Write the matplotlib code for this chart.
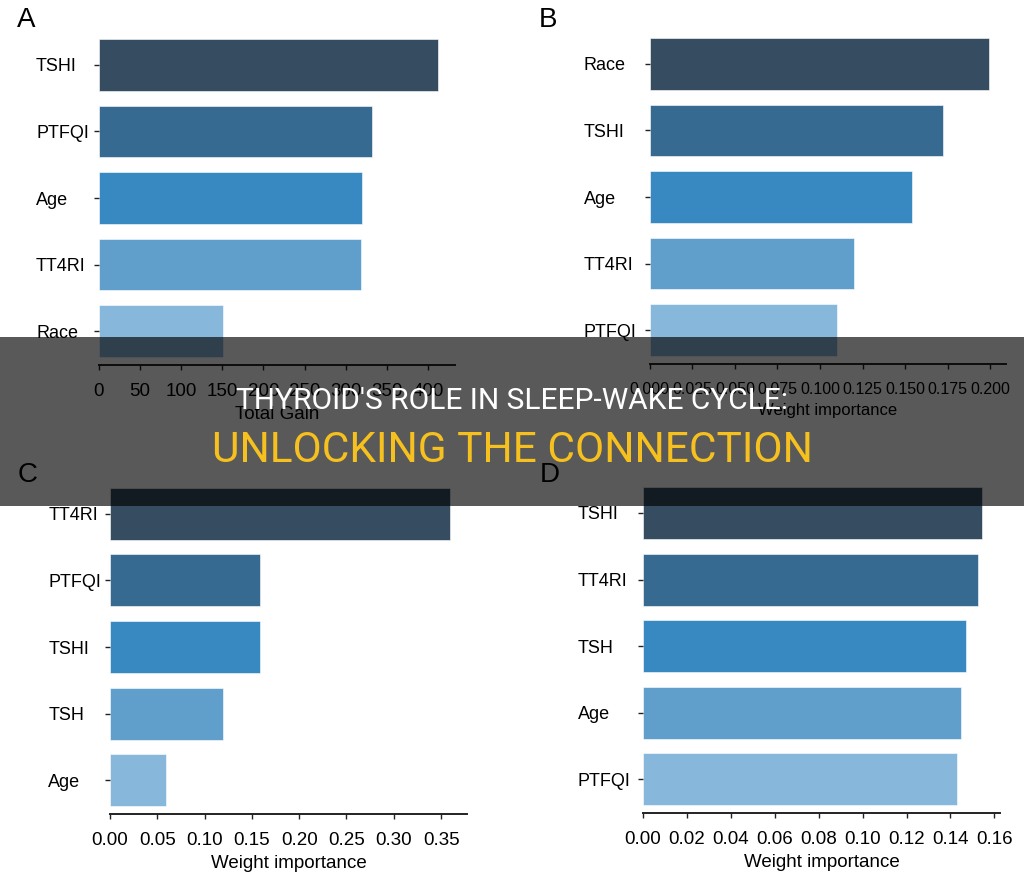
"""
Four-panel feature importance figure (A-D) with a title banner across the middle.
"""

import matplotlib
matplotlib.use("Agg")
import matplotlib.pyplot as plt
from matplotlib import font_manager
from matplotlib.patches import Rectangle

# ---- data ---------------------------------------------------------------
labels_a = ["TSHI", "PTFQI", "Age", "TT4RI", "Race"]
gain_a = [412, 332, 320, 319, 151]
ticks_a = [0, 50, 100, 150, 200, 250, 300, 350, 400]

labels_b = ["Race", "TSHI", "Age", "TT4RI", "PTFQI"]
weight_b = [0.199, 0.172, 0.154, 0.120, 0.110]
ticks_b = [0.000, 0.025, 0.050, 0.075, 0.100, 0.125, 0.150, 0.175, 0.200]

labels_c = ["TT4RI", "PTFQI", "TSHI", "TSH", "Age"]
weight_c = [0.359, 0.159, 0.159, 0.1195, 0.059]
ticks_c = [0.00, 0.05, 0.10, 0.15, 0.20, 0.25, 0.30, 0.35]

labels_d = ["TSHI", "TT4RI", "TSH", "Age", "PTFQI"]
weight_d = [0.1545, 0.1526, 0.147, 0.1448, 0.1429]
ticks_d = [0.00, 0.02, 0.04, 0.06, 0.08, 0.10, 0.12, 0.14, 0.16]

bar_colors = ["#364d61", "#376a90", "#3888c1", "#609fcb", "#87b7da"]

title_line1 = "THYROID'S ROLE IN SLEEP-WAKE CYCLE:"
title_line2 = "UNLOCKING THE CONNECTION"

# ---- style --------------------------------------------------------------
W, H, DPI = 1024, 876, 100
plt.rcParams["font.family"] = ["Liberation Sans", "DejaVu Sans"]
installed = {f.name for f in font_manager.fontManager.ttflist}
narrow = "Liberation Sans Narrow" if "Liberation Sans Narrow" in installed else None


def px_rect(left, right, top, bottom):
    return [left / W, 1 - bottom / H, (right - left) / W, (bottom - top) / H]


def bar_panel(fig, rect, labels, values, ticks, fmt, xmax, xlabel, label_offset, narrow_x=False):
    ax = fig.add_axes(rect)
    pos = list(range(len(labels)))
    ax.barh(pos, values, height=0.78, color=bar_colors, edgecolor="white", linewidth=0.4)
    ax.set_ylim(4.51, -0.39)
    ax.set_xlim(0, xmax)
    for side in ("top", "right", "left"):
        ax.spines[side].set_visible(False)
    ax.spines["bottom"].set_linewidth(1.4)
    ax.spines["bottom"].set_color("#222222")

    ax.set_yticks(pos)
    ax.set_yticklabels(labels, fontsize=13)
    ax.tick_params(axis="y", length=3.6, width=1.0, color="#222222",
                   pad=(label_offset - 5) * 72 / DPI)
    for t in ax.get_yticklabels():
        t.set_horizontalalignment("left")

    ax.set_xticks(ticks)
    ax.set_xticklabels([fmt.format(t) for t in ticks], fontsize=13.5)
    ax.tick_params(axis="x", length=3.6, width=1.0, color="#222222", pad=9.5)
    ax.set_xlabel(xlabel, fontsize=13.5, labelpad=4)
    if narrow_x:
        if narrow:
            for t in ax.get_xticklabels():
                t.set_family(narrow)
            ax.xaxis.label.set_family(narrow)
        else:
            for t in ax.get_xticklabels():
                t.set_fontsize(11.5)
            ax.xaxis.label.set_fontsize(12)
    ax.set_facecolor("none")
    return ax


fig = plt.figure(figsize=(W / DPI, H / DPI), dpi=DPI)

bar_panel(fig, px_rect(99, 455, 39, 365), labels_a, gain_a, ticks_a, "{:.0f}",
          433, "Total Gain", 63)
bar_panel(fig, px_rect(649.7, 1006.3, 38, 364), labels_b, weight_b, ticks_b, "{:.3f}",
          0.2093, "Weight importance", 66, narrow_x=True)
bar_panel(fig, px_rect(110, 467.3, 487.8, 814.3), labels_c, weight_c, ticks_c, "{:.2f}",
          0.3777, "Weight importance", 61.7)
bar_panel(fig, px_rect(643, 1000.3, 487, 813.3), labels_d, weight_d, ticks_d, "{:.2f}",
          0.1627, "Weight importance", 65.3)

# panel letters
for letter, x, y in [("A", 17, 27), ("B", 539, 27), ("C", 18, 482), ("D", 540, 482)]:
    fig.text(x / W, 1 - y / H, letter, fontsize=20, va="baseline", ha="left")

# banner across the middle
fig.patches.append(Rectangle((0, 1 - 506 / H), 1, (506 - 337) / H, transform=fig.transFigure,
                             facecolor="black", alpha=0.65, edgecolor="none", zorder=10))
fig.text(0.5, 1 - 401 / H, title_line1, fontsize=21.5, color="white", family="Roboto",
         ha="center", va="center", zorder=11)
fig.text(0.5, 1 - 450 / H, title_line2, fontsize=30.5, color="#f6c01e", family="Roboto",
         ha="center", va="center", zorder=11)

fig.savefig("out.png", dpi=DPI)
